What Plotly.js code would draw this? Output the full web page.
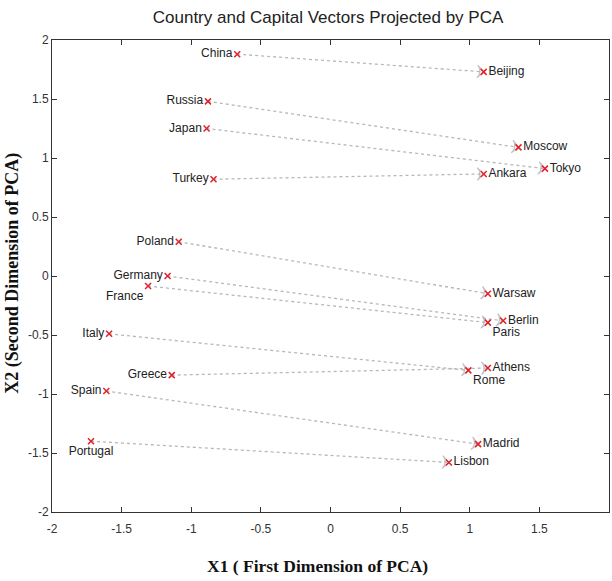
<!DOCTYPE html>
<html><head><meta charset="utf-8">
<script src="https://cdn.plot.ly/plotly-3.0.1.min.js"></script>
<style>body{margin:0;background:#fff}#chart{width:612px;height:581px}</style>
</head><body><div id="chart"></div>
<script>
const countries = ["China","Russia","Japan","Turkey","Poland","Germany","France","Italy","Greece","Spain","Portugal"];
const countryX = [-0.67,-0.88,-0.89,-0.84,-1.09,-1.17,-1.31,-1.59,-1.14,-1.61,-1.72];
const countryY = [1.88,1.48,1.25,0.82,0.29,0.00,-0.085,-0.49,-0.84,-0.975,-1.40];
const capitals = ["Beijing","Moscow","Tokyo","Ankara","Warsaw","Berlin","Paris","Rome","Athens","Madrid","Lisbon"];
const capitalX = [1.10,1.35,1.54,1.10,1.13,1.24,1.13,0.99,1.13,1.06,0.85];
const capitalY = [1.73,1.09,0.91,0.865,-0.15,-0.38,-0.395,-0.80,-0.78,-1.425,-1.58];
const countryPos = ["middle left","middle left","middle left","middle left","middle left","middle left","bottom left","middle left","middle left","middle left","bottom center"];
const capitalPos = ["middle right","middle right","middle right","middle right","middle right","middle right","bottom right","bottom right","middle right","middle right","middle right"];
const tickVals = [-2,-1.5,-1,-0.5,0,0.5,1,1.5,2];
const tickText = ["-2","-1.5","-1","-0.5","0","0.5","1","1.5","2"];

const traces = [];
countries.forEach((c,i)=>{
  traces.push({
    x:[countryX[i],capitalX[i]], y:[countryY[i],capitalY[i]],
    mode:'lines+markers', type:'scatter', hoverinfo:'skip', showlegend:false,
    line:{color:'#b8b8b8', width:1.3, dash:'dot'},
    marker:{symbol:['circle','arrow-wide-open'], size:[0,9], angleref:'previous',
            color:'#a8a8a8', line:{color:'#a8a8a8', width:1.2}}
  });
});
const txtFont = {family:'Liberation Sans, Arial, sans-serif', size:12, color:'#222'};
traces.push({x:countryX, y:countryY, text:countries, textposition:countryPos, mode:'markers+text', type:'scatter', showlegend:false,
  textfont:txtFont, marker:{symbol:'x-thin-open', size:6, color:'#e0202a', line:{color:'#e0202a', width:1.5}}});
traces.push({x:capitalX, y:capitalY, text:capitals, textposition:capitalPos, mode:'markers+text', type:'scatter', showlegend:false,
  textfont:txtFont, marker:{symbol:'x-thin-open', size:6, color:'#e0202a', line:{color:'#e0202a', width:1.5}}});

const axBase = {range:[-2,2], tickmode:'array', tickvals:tickVals, ticktext:tickText, ticks:'inside', ticklen:5,
  tickcolor:'#333', showline:true, linecolor:'#333', linewidth:1, mirror:'allticks', showgrid:false, zeroline:false,
  tickfont:{family:'Liberation Sans, Arial, sans-serif', size:12, color:'#333'}};

const serifBold = {family:'Liberation Serif, Times New Roman, serif', size:17.5, color:'#111'};
const layout = {
  width:612, height:581, margin:{l:52, r:3, t:40, b:69},
  paper_bgcolor:'#fff', plot_bgcolor:'#fff',
  title:{text:'Country and Capital Vectors Projected by PCA', x:0.536, xanchor:'center', y:0.971, yanchor:'middle',
    font:{family:'Liberation Sans, Arial, sans-serif', size:17, color:'#222'}},
  xaxis:Object.assign({}, axBase, {ticklabelstandoff:6}),
  yaxis:Object.assign({}, axBase),
  annotations:[
    {text:'<b>X1 ( First Dimension of PCA)</b>', xref:'paper', yref:'paper', x:0.476, y:-0.114,
     xanchor:'center', yanchor:'middle', showarrow:false, font:serifBold},
    {text:'<b>X2 (Second Dimension of PCA)</b>', xref:'paper', yref:'paper', x:-0.07, y:0.505, xanchor:'center', yanchor:'middle',
     textangle:-90, showarrow:false, font:Object.assign({}, serifBold, {size:18})}
  ]
};
Plotly.newPlot('chart', traces, layout, {displayModeBar:false, staticPlot:true});
</script></body></html>
